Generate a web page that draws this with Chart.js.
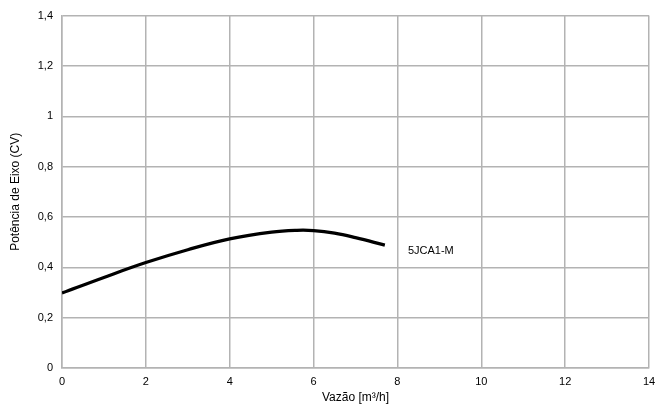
<!DOCTYPE html>
<html>
<head>
<meta charset="utf-8">
<script src="https://cdn.jsdelivr.net/npm/chart.js@4/dist/chart.umd.min.js"></script>
<style>
  html, body { margin: 0; padding: 0; background: #fff; }
  #wrap { width: 656px; height: 412px; }
</style>
</head>
<body>
<div id="wrap"><canvas id="grafico" width="656" height="412"></canvas></div>
<script>
// Curva de potência - 5JCA1-M
const vazao = [0, 1, 2, 3, 4, 5, 5.6, 6, 6.5, 7, 7.7];
const potencia = [0.298, 0.36, 0.419, 0.47, 0.513, 0.54, 0.547, 0.546, 0.536, 0.518, 0.488];
const serieNome = '5JCA1-M';
const xTicks = [0, 2, 4, 6, 8, 10, 12, 14];
const yTicks = [0, 0.2, 0.4, 0.6, 0.8, 1, 1.2, 1.4];

const fmt = v => String(v).replace('.', ',');

// texto do rótulo da curva
const rotulo = {
    id: 'rotulo',
    afterDatasetsDraw(chart) {
        const { ctx, scales } = chart;
        ctx.save();
        ctx.font = '11px "Liberation Sans", Arial, sans-serif';
        ctx.fillStyle = '#000';
        ctx.textBaseline = 'middle';
        ctx.fillText(serieNome, scales.x.getPixelForValue(8.25), scales.y.getPixelForValue(0.463));
        ctx.restore();
    }
};

const ctx = document.getElementById('grafico').getContext('2d');
new Chart(ctx, {
    type: 'line',
    data: {
        datasets: [{
            label: serieNome,
            data: vazao.map((v, i) => ({ x: v, y: potencia[i] })),
            borderColor: '#000',
            borderWidth: 3.2,
            pointRadius: 0,
            tension: 0.4,
            fill: false
        }]
    },
    options: {
        responsive: false,
        animation: false,
        layout: { padding: { left: 0, right: 7, top: 11, bottom: 0 } },
        plugins: {
            legend: { display: false },
            tooltip: { enabled: false }
        },
        scales: {
            x: {
                type: 'linear',
                min: 0,
                max: 14,
                afterBuildTicks: s => { s.ticks = xTicks.map(v => ({ value: v })); },
                afterFit: s => { s.height = 44; s.paddingRight = 0; s.paddingLeft = 0; },
                grid: { color: '#b3b3b3', lineWidth: 1.5, drawTicks: false },
                border: { color: '#b3b3b3', width: 1.5 },
                ticks: {
                    padding: 7,
                    color: '#000',
                    font: { family: '"Liberation Sans", Arial, sans-serif', size: 11 },
                    callback: v => fmt(v)
                },
                title: {
                    display: true,
                    text: 'Vazão [m³/h]',
                    color: '#000',
                    padding: { top: 2, bottom: 7 },
                    font: { family: '"Liberation Sans", Arial, sans-serif', size: 12 }
                }
            },
            y: {
                min: 0,
                max: 1.4,
                afterBuildTicks: s => { s.ticks = yTicks.map(v => ({ value: v })); },
                afterFit: s => { s.width = 62; },
                grid: { color: '#b3b3b3', lineWidth: 1.5, drawTicks: false },
                border: { color: '#b3b3b3', width: 1.5 },
                ticks: {
                    padding: 9,
                    color: '#000',
                    font: { family: '"Liberation Sans", Arial, sans-serif', size: 11 },
                    callback: v => fmt(v)
                },
                title: {
                    display: true,
                    text: 'Potência de Eixo (CV)',
                    color: '#000',
                    padding: { top: 8, bottom: 4 },
                    font: { family: '"Liberation Sans", Arial, sans-serif', size: 12 }
                }
            }
        }
    },
    plugins: [rotulo]
});
</script>
</body>
</html>
